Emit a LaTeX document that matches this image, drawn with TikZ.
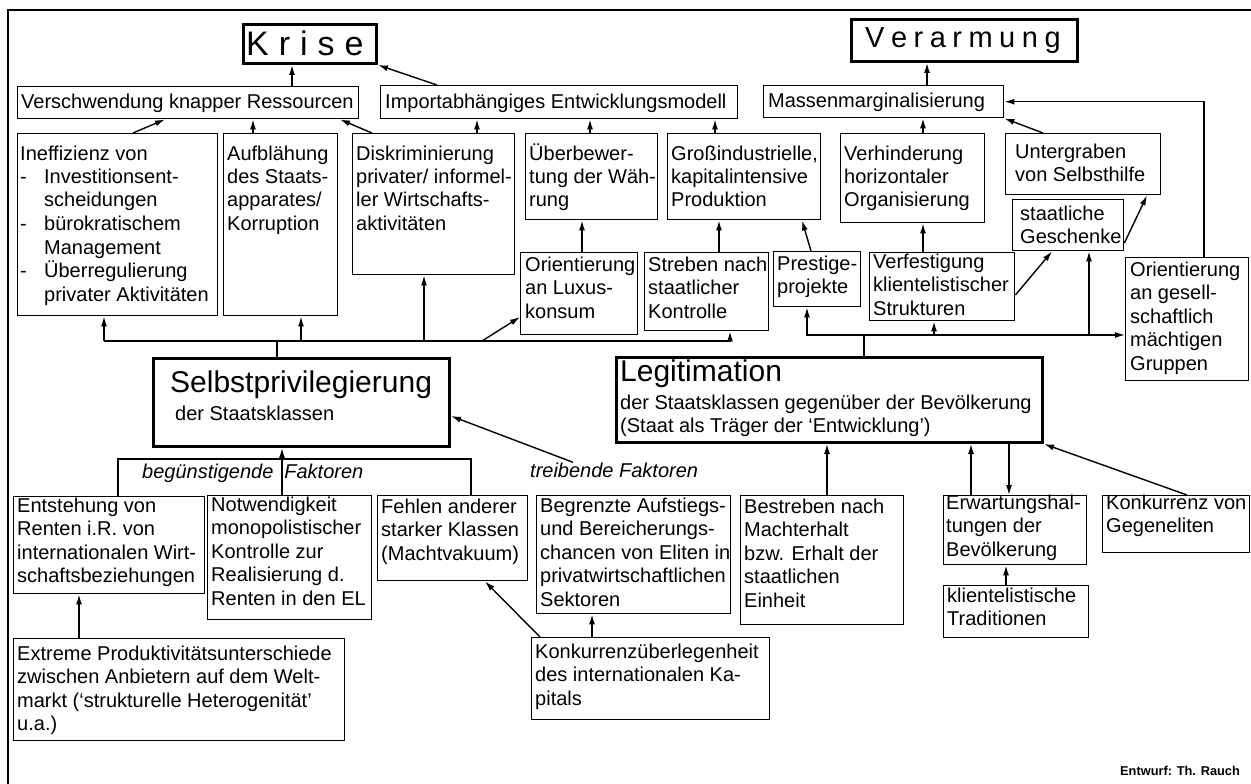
\documentclass[tikz,border=0pt]{standalone}
\usepackage{fontspec}
\setmainfont{Liberation Sans}
\usetikzlibrary{arrows.meta}

\newcommand\bodyfont{\fontsize{20}{23.5}\selectfont}
\newcommand\bigfont{\fontsize{30}{30}\selectfont}

% \bx[style]{name}{x}{y}{width}{height}{text dx}{first baseline dy}{lines}
\newcommand\bx[9][box]{%
  \node[#1,minimum width=#5pt,minimum height=#6pt,anchor=north west] (#2) at (#3,#4) {};
  \node[lbl] (#2-t) at ([xshift=#7pt,yshift=-#8pt]#2.north west)
    {\begin{tabular}[t]{@{}l@{}}#9\end{tabular}};}

\begin{document}
\begin{tikzpicture}[x=1pt,y=-1pt,
  box/.style={draw,line width=1.4pt,inner sep=0pt},
  heavybox/.style={draw,line width=3pt,inner sep=0pt},
  lbl/.style={anchor=base west,inner sep=0pt,font=\bodyfont},
  wire/.style={line width=1.4pt},
  arr/.style={line width=1.4pt,-{Latex[length=10pt,width=6pt]}}]

\fill[white] (0,0) rectangle (1251,784);
\useasboundingbox (0,0) rectangle (1251,784);

% frame
\draw[line width=1.2pt] (8,784) -- (8,10) -- (1251,10);

% titles
\node[heavybox,minimum width=133pt,minimum height=39pt,anchor=north west] (krise) at (242,23) {};
\node[anchor=base west,inner sep=0pt,font=\fontsize{34}{34}\selectfont] (krise-t) at (246,56)
  {K\hspace{10pt}r\hspace{10pt}i\hspace{10pt}s\hspace{10pt}e};
\node[heavybox,minimum width=226pt,minimum height=42pt,anchor=north west] (verarm) at (850,18) {};
\node[anchor=base west,inner sep=0pt,font=\fontsize{29}{29}\selectfont] (verarm-t) at (865,48)
  {V\hspace{6.5pt}e\hspace{6.5pt}r\hspace{6.5pt}a\hspace{6.5pt}r\hspace{6.5pt}m\hspace{6.5pt}u\hspace{6.5pt}n\hspace{6.5pt}g};

% first row
\bx{versch}{17}{86}{341}{32}{4}{23}{Verschwendung knapper Ressourcen}
\bx{import}{380}{85}{357}{33}{5}{23}{Importabhängiges Entwicklungsmodell}
\bx{massen}{763}{85}{240}{32}{5}{22}{Massenmarginalisierung}

% second row
\bx{ineff}{17}{133}{200}{182}{3}{27}{Ineffizienz von\\
  \makebox[24pt][l]{-}Investitionsent-\\
  \hspace{24pt}scheidungen\\
  \makebox[24pt][l]{-}bürokratischem\\
  \hspace{24pt}Management\\
  \makebox[24pt][l]{-}Überregulierung\\
  \hspace{24pt}privater Aktivitäten}
\bx{aufbl}{223}{133}{114}{182}{4}{27}{Aufblähung\\des Staats-\\apparates/\\Korruption}
\bx{diskr}{352}{133}{162}{141}{4}{27}{Diskriminierung\\privater/ informel-\\ler Wirtschafts-\\aktivitäten}
\bx{ueberb}{525}{133}{132}{86}{4}{27}{Überbewer-\\tung der Wäh-\\rung}
\bx{gross}{667}{133}{153}{86}{4}{27}{Großindustrielle,\\kapitalintensive\\Produktion}
\bx{verhin}{840}{133}{144}{89}{4}{27}{Verhinderung\\horizontaler\\Organisierung}
\bx{untergr}{1005}{133}{155}{61}{10}{25}{Untergraben\\von Selbsthilfe}
\bx{geschenke}{1012}{199}{111}{51}{8}{21}{staatliche\\Geschenke}

% third row
\bx{luxus}{520}{252}{117}{82}{5}{19}{Orientierung\\an Luxus-\\konsum}
\bx{streben}{644}{252}{124}{78}{4}{19}{Streben nach\\staatlicher\\Kontrolle}
\bx{prestige}{773}{251}{87}{55}{4}{19}{Prestige-\\projekte}
\bx{verfest}{869}{252}{145}{68}{4}{16}{Verfestigung\\klientelistischer\\Strukturen}
\bx{orgesell}{1125}{257}{123}{123}{5}{19}{Orientierung\\an gesell-\\schaftlich\\mächtigen\\Gruppen}

% central boxes
\node[heavybox,minimum width=296pt,minimum height=88pt,anchor=north west] (selbst) at (152,357) {};
\node[anchor=base west,inner sep=0pt,font=\bigfont] (selbst-t) at (170,392) {Selbstprivilegierung};
\node[lbl] (selbst-s) at (175,420) {der Staatsklassen};
\node[heavybox,minimum width=426pt,minimum height=85pt,anchor=north west] (legit) at (615,356) {};
\node[anchor=base west,inner sep=0pt,font=\bigfont] (legit-t) at (620,381) {Legitimation};
\node[lbl] (legit-s) at (620,409) {\begin{tabular}[t]{@{}l@{}}der Staatsklassen gegenüber der Bevölkerung\\(Staat als Träger der ‘Entwicklung’)\end{tabular}};

% factor labels
\node[lbl,font=\bodyfont\itshape] (beg) at (142,478) {begünstigende\hspace{11pt}Faktoren};
\node[lbl,font=\bodyfont\itshape] (treib) at (530,477) {treibende Faktoren};

% lower row
\bx{entst}{13}{496}{191}{97}{4}{16}{Entstehung von\\Renten i.R. von\\internationalen Wirt-\\schaftsbeziehungen}
\bx{notw}{207}{495}{164}{124}{4}{16}{Notwendigkeit\\monopolistischer\\Kontrolle zur\\Realisierung d.\\Renten in den EL}
\bx{fehlen}{377}{495}{150}{85}{4}{18}{Fehlen anderer\\starker Klassen\\(Machtvakuum)}
\bx{begrenzt}{536}{495}{194}{118}{4}{17}{Begrenzte Aufstiegs-\\und Bereicherungs-\\chancen von Eliten in\\privatwirtschaftlichen\\Sektoren}
\bx{bestreb}{740}{495}{163}{129}{4}{18}{Bestreben nach\\Machterhalt\\bzw. Erhalt der\\staatlichen\\Einheit}
\bx{erwart}{943}{495}{143}{69}{3}{14}{Erwartungshal-\\tungen der\\Bevölkerung}
\bx{konkgeg}{1102}{495}{147}{57}{4}{14}{Konkurrenz von\\Gegeneliten}
\bx{klient}{943}{585}{145}{52}{4}{17}{klientelistische\\Traditionen}
\bx{extreme}{13}{638}{331}{102}{4}{22}{Extreme Produktivitätsunterschiede\\zwischen Anbietern auf dem Welt-\\markt (‘strukturelle Heterogenität’\\u.a.)}
\bx{konkint}{531}{637}{238}{82}{4}{21}{Konkurrenzüberlegenheit\\des internationalen Ka-\\pitals}

\node[anchor=base west,inner sep=0pt,font=\fontsize{12.8}{14}\selectfont\bfseries] (entwurf) at (1120,775) {Entwurf: Th. Rauch};

% connectors into the titles
\draw[arr] (versch.north -| 292,0) -- (krise.south -| 292,0);
\draw[arr] (import.north -| 437,0) -- (krise.south east);
\draw[arr] (massen.north -| 927,0) -- (verarm.south -| 927,0);

% into the first row
\draw[arr] (ineff.north -| 133,0) -- (versch.south -| 165,0);
\draw[arr] (aufbl.north -| 253,0) -- (versch.south -| 253,0);
\draw[arr] (diskr.north -| 372,0) -- (versch.south -| 340,0);
\draw[arr] (diskr.north -| 477,0) -- (import.south -| 477,0);
\draw[arr] (ueberb.north -| 590,0) -- (import.south -| 590,0);
\draw[arr] (gross.north -| 715,0) -- (import.south -| 715,0);
\draw[arr] (verhin.north -| 923,0) -- (massen.south -| 923,0);
\draw[arr] (untergr.north -| 1043,0) -- (massen.south east);
\draw[arr] (orgesell.north -| 1204,0) |- (massen.east);
\draw[arr] (geschenke.east |- 0,243) -- (untergr.south -| 1147,0);

% into the second row
\draw[arr] (luxus.north -| 582,0) -- (ueberb.south -| 582,0);
\draw[arr] (streben.north -| 719,0) -- (gross.south -| 719,0);
\draw[arr] (prestige.north -| 811,0) -- (gross.south -| 802,0);
\draw[arr] (verfest.north -| 923,0) -- (verhin.south -| 923,0);
\draw[arr] (verfest.east |- 0,295) -- (geschenke.south -| 1052,0);

% distribution line of Selbstprivilegierung
\coordinate (sbusL) at (104,341);
\coordinate (sbusR) at (730,341);
\draw[wire] (sbusL) -- (sbusR);
\draw[wire] (selbst.north -| 277,0) -- (sbusL -| 277,0);
\draw[arr] (sbusL) -- (ineff.south -| sbusL);
\draw[arr] (sbusL -| 301,0) -- (aufbl.south -| 301,0);
\draw[arr] (sbusL -| 424,0) -- (diskr.south -| 424,0);
\draw[arr] (sbusL -| 482,0) -- (luxus.west |- 0,317);
\draw[arr] (sbusR) -- (streben.south -| sbusR);

% distribution line of Legitimation
\coordinate (lbusL) at (807,335);
\draw[wire] (legit.north -| 864,0) -- (lbusL -| 864,0);
\draw[arr] (lbusL -| 864,0) -- (lbusL) -- (prestige.south -| lbusL);
\draw[arr] (lbusL -| 864,0) -- (orgesell.west |- lbusL);
\draw[arr] (lbusL -| 934,0) -- (verfest.south -| 934,0);
\draw[arr] (lbusL -| 1089,0) -- (geschenke.south -| 1089,0);

% factors below Selbstprivilegierung
\coordinate (bkL) at (118,459);
\coordinate (bkR) at (471,459);
\draw[wire] (entst.north -| bkL) -- (bkL) -- (bkR) -- (fehlen.north -| bkR);
\draw[arr] (notw.north -| 282,0) -- (selbst.south -| 282,0);
\draw[arr] (treib.north -| 573,0) -- (selbst.east |- 0,416);

% factors below Legitimation
\draw[arr] (bestreb.north -| 827,0) -- (legit.south -| 827,0);
\draw[arr] (erwart.north -| 971,0) -- (legit.south -| 971,0);
\draw[arr] (legit.south -| 1009,0) -- (erwart.north -| 1009,0);
\draw[arr] (konkgeg.north -| 1187,0) -- (legit.south east);
\draw[arr] (klient.north -| 1006,0) -- (erwart.south -| 1006,0);

% bottom causes
\draw[arr] (extreme.north -| 79,0) -- (entst.south -| 79,0);
\draw[arr] (konkint.north -| 592,0) -- (begrenzt.south -| 592,0);
\draw[arr] (konkint.north -| 540,0) -- (fehlen.south -| 485,0);

\end{tikzpicture}
\end{document}
